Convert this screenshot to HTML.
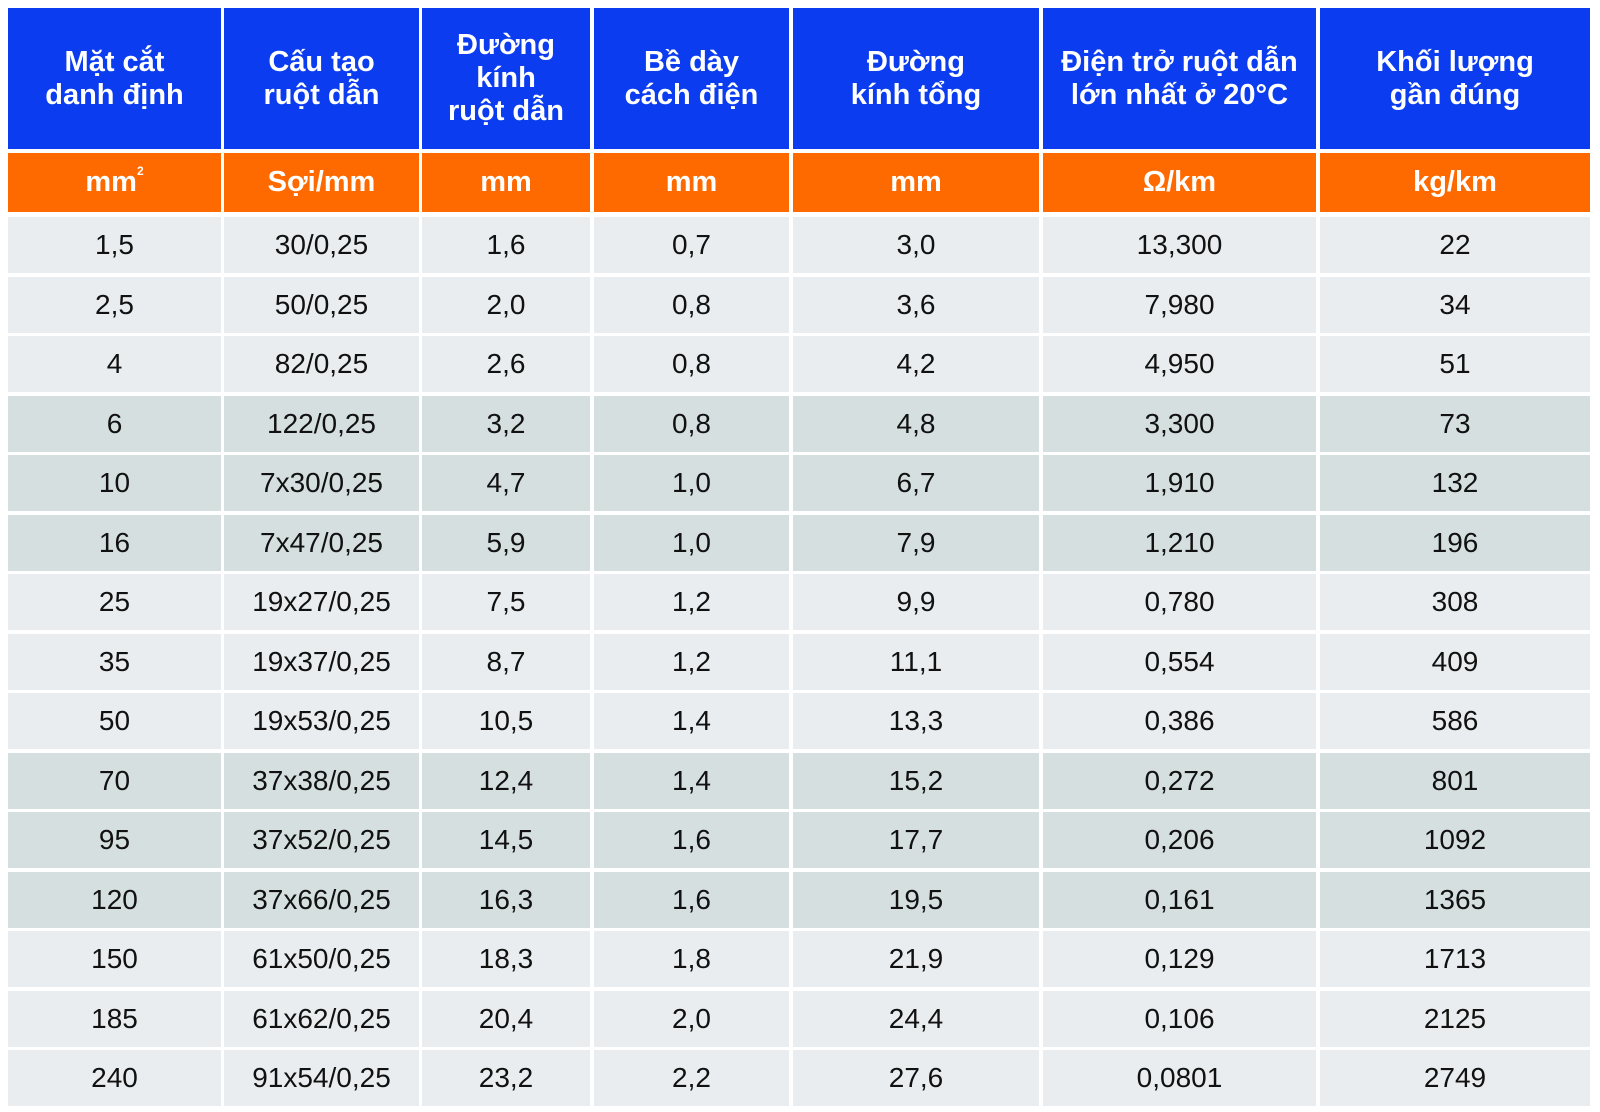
<!DOCTYPE html>
<html><head><meta charset="utf-8"><style>
body{margin:0;width:1600px;height:1112px;background:#fff;overflow:hidden;font-family:"Liberation Sans",sans-serif}
.c{position:absolute;display:flex;align-items:center;justify-content:center;text-align:center;box-sizing:border-box}
.h{background:#0b3cf0;color:#fff;font-weight:bold;font-size:29px;line-height:33px}
.u{background:#ff6a00;color:#fff;font-weight:bold;font-size:29px}
.d{color:#111;font-size:28px}
.l{background:#e9edef}.k{background:#d5dfe0}
.sp{font-size:12px;position:relative;top:-12px}
</style></head><body>
<div id="t"></div>
<script>
const headers=["Mặt cắt<br>danh định","Cấu tạo<br>ruột dẫn","Đường<br>kính<br>ruột dẫn","Bề dày<br>cách điện","Đường<br>kính tổng","Điện trở ruột dẫn<br>lớn nhất ở 20°C","Khối lượng<br>gần đúng"];
const units=["mm<span class='sp'>2</span>","Sợi/mm","mm","mm","mm","Ω/km","kg/km"];
const section=["1,5","2,5","4","6","10","16","25","35","50","70","95","120","150","185","240"];
const construct=["30/0,25","50/0,25","82/0,25","122/0,25","7x30/0,25","7x47/0,25","19x27/0,25","19x37/0,25","19x53/0,25","37x38/0,25","37x52/0,25","37x66/0,25","61x50/0,25","61x62/0,25","91x54/0,25"];
const condDia=["1,6","2,0","2,6","3,2","4,7","5,9","7,5","8,7","10,5","12,4","14,5","16,3","18,3","20,4","23,2"];
const insul=["0,7","0,8","0,8","0,8","1,0","1,0","1,2","1,2","1,4","1,4","1,6","1,6","1,8","2,0","2,2"];
const totalDia=["3,0","3,6","4,2","4,8","6,7","7,9","9,9","11,1","13,3","15,2","17,7","19,5","21,9","24,4","27,6"];
const resist=["13,300","7,980","4,950","3,300","1,910","1,210","0,780","0,554","0,386","0,272","0,206","0,161","0,129","0,106","0,0801"];
const weight=["22","34","51","73","132","196","308","409","586","801","1092","1365","1713","2125","2749"];
const cols=[[8,221],[224,419],[422,590],[594,789],[793,1039],[1043,1316],[1320,1590]];
const data=[section,construct,condDia,insul,totalDia,resist,weight];
const t=document.getElementById('t');
function cell(cls,x,y,w,h,html,name){const e=document.createElement('div');e.className='c '+cls;
e.style.cssText=`left:${x}px;top:${y}px;width:${w}px;height:${h}px`;e.innerHTML=html;


t.appendChild(e);}
cols.forEach((c,i)=>{const w=c[1]-c[0];
cell('h',c[0],8,w,141,headers[i],'header-cell');
cell('u',c[0],153,w,59,units[i],'unit-cell');
for(let r=0;r<section.length;r++){const y=217+r*59.5;const shade=(Math.floor(r/3)%2)?'k':'l';
cell('d '+shade,c[0],y,w,56,data[i][r],'data-cell');}
});
</script>
</body></html>
